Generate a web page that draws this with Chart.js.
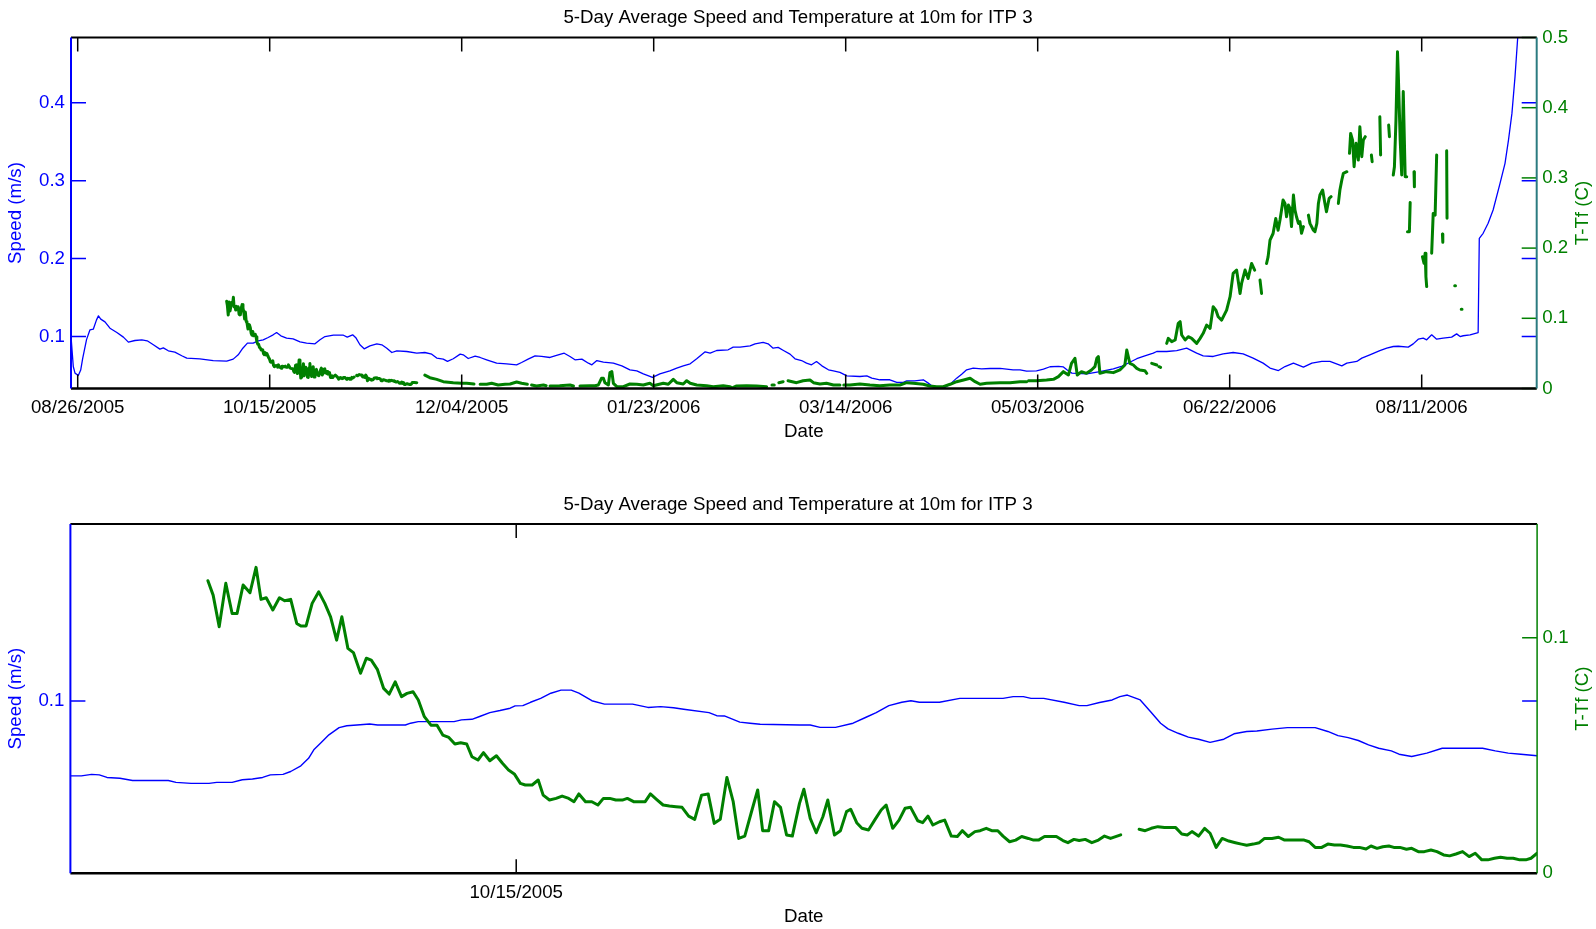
<!DOCTYPE html>
<html><head><meta charset="utf-8">
<script src="https://cdn.jsdelivr.net/npm/chart.js@4.4.1/dist/chart.umd.min.js"></script>
<style>
html,body{margin:0;padding:0;background:#fff;overflow:hidden;}
#top{position:absolute;left:0;top:0;width:1596px;height:460px;}
#bot{position:absolute;left:0;top:460px;width:1596px;height:469px;}
</style></head><body>
<div id="top"><canvas id="c1"></canvas></div>
<div id="bot"><canvas id="c2"></canvas></div>
<script>
// ---------- DATA (x = days since 08/26/2005) ----------
const chartTitle = '5-Day Average Speed and Temperature at 10m for ITP 3';
const topTickDays = [0,50,100,150,200,250,300,350];
const topTickLabels = ['08/26/2005','10/15/2005','12/04/2005','01/23/2006','03/14/2006','05/03/2006','06/22/2006','08/11/2006'];
const topSpeedTicks = [0.1,0.2,0.3,0.4];
const topSpeedTickLabels = ['0.1','0.2','0.3','0.4'];
const topTempTicks = [0,0.1,0.2,0.3,0.4,0.5];
const topTempTickLabels = ['0','0.1','0.2','0.3','0.4','0.5'];
const botTickDays = [50];
const botTickLabels = ['10/15/2005'];
const botSpeedTicks = [0.1];
const botSpeedTickLabels = ['0.1'];
const botTempTicks = [0,0.1];
const botTempTickLabels = ['0','0.1'];

const topSpeed = [[-1.74,0.100],[-1.15,0.0615],[-0.7,0.053],[0.16,0.050],[0.78,0.057],[1.3,0.072],[2.3,0.096],[3.2,0.1086],[4.06,0.1094],[4.9,0.1214],[5.4,0.1265],[6.0,0.1223],[7.1,0.1188],[8.4,0.1107],[10.2,0.1051],[11.9,0.0992],[13.2,0.0928],[14.9,0.0949],[16.7,0.0958],[18.1,0.0945],[19.7,0.0894],[21.4,0.0838],[22.3,0.0855],[23.6,0.0817],[25.3,0.080],[27.1,0.0753],[28.4,0.0723],[31.8,0.0714],[35.3,0.0692],[38.8,0.0684],[40.5,0.071],[41.8,0.0765],[43.0,0.085],[44.2,0.0915],[45.7,0.0915],[47.0,0.0945],[48.3,0.0958],[49.6,0.0988],[50.9,0.1022],[51.8,0.1051],[52.9,0.1009],[54.4,0.098],[56.1,0.0971],[57.9,0.0932],[59.6,0.0915],[61.8,0.0906],[63.1,0.0958],[64.4,0.100],[66.6,0.1017],[69.2,0.1017],[70.2,0.0992],[71.6,0.1022],[72.5,0.098],[73.5,0.0894],[74.6,0.0842],[76.1,0.088],[77.9,0.0906],[79.2,0.0894],[80.5,0.085],[81.8,0.0795],[83.1,0.0817],[85.7,0.0808],[88.3,0.0787],[90.4,0.0795],[92.2,0.0774],[93.5,0.0723],[95.2,0.071],[96.3,0.0682],[97.8,0.0715],[99.6,0.0774],[100.4,0.0765],[101.7,0.0718],[103.5,0.0748],[104.8,0.0731],[106.5,0.0701],[109.1,0.0658],[111.7,0.065],[114.3,0.0637],[115.6,0.0667],[117.3,0.071],[119.1,0.0752],[120.8,0.0744],[123.0,0.0731],[124.7,0.0757],[126.7,0.0786],[128.2,0.0744],[129.5,0.0701],[131.3,0.071],[133.0,0.0658],[133.9,0.0637],[135.2,0.0692],[136.9,0.0671],[139.5,0.0658],[141.7,0.0624],[143.8,0.0573],[145.6,0.056],[147.3,0.0521],[149.7,0.0475],[151.6,0.0521],[154.2,0.056],[156.0,0.0594],[157.7,0.0624],[159.5,0.065],[161.2,0.0714],[163.4,0.0804],[164.7,0.0787],[166.4,0.0821],[169.4,0.083],[170.7,0.0864],[172.5,0.0864],[175.1,0.0881],[176.4,0.0906],[178.5,0.0924],[179.8,0.0906],[181.1,0.0851],[182.4,0.086],[183.8,0.0821],[185.5,0.0774],[186.8,0.0714],[188.5,0.0692],[189.8,0.0658],[191.1,0.0637],[192.4,0.0679],[193.8,0.0624],[195.5,0.0573],[196.8,0.056],[198.5,0.0539],[200.3,0.0496],[203.7,0.0487],[205.5,0.0496],[206.8,0.0466],[208.9,0.0445],[211.5,0.0445],[213.3,0.0411],[215.0,0.0411],[215.9,0.0432],[218.0,0.0432],[220.2,0.0445],[221.5,0.0402],[222.8,0.0351],[225.4,0.0335],[227.2,0.0389],[228.9,0.0466],[230.2,0.0517],[231.5,0.0573],[233.2,0.0594],[235.4,0.0586],[237.6,0.059],[240.2,0.059],[243.6,0.0573],[245.4,0.0573],[247.1,0.0556],[249.7,0.056],[251.5,0.0581],[253.2,0.0612],[255.4,0.0616],[256.7,0.061],[257.6,0.0573],[258.9,0.053],[262.8,0.052],[266.2,0.0551],[269.7,0.0585],[272.0,0.062],[274.0,0.067],[275.8,0.0715],[277.5,0.0744],[280.1,0.0787],[281.0,0.0808],[283.6,0.0808],[286.2,0.082],[288.8,0.0851],[291.4,0.0787],[293.1,0.0753],[295.7,0.0744],[298.3,0.0778],[300.9,0.0795],[303.5,0.0778],[306.1,0.0723],[308.7,0.0659],[310.5,0.0595],[312.7,0.0564],[314.4,0.0615],[316.6,0.0659],[319.2,0.0607],[321.4,0.0659],[324.0,0.068],[326.1,0.068],[329.2,0.0624],[330.5,0.0659],[333.1,0.068],[334.4,0.0723],[336.5,0.0765],[339.1,0.082],[340.9,0.0851],[342.6,0.0872],[343.9,0.0875],[346.5,0.0864],[347.8,0.0906],[349.1,0.0966],[350.4,0.098],[351.3,0.0958],[352.6,0.1022],[353.9,0.0966],[355.6,0.098],[357.8,0.0992],[359.1,0.1034],[360.0,0.100],[360.8,0.101],[362.6,0.1022],[364.7,0.1051],[365.0,0.2261],[366.0,0.2325],[367.3,0.2453],[368.6,0.2624],[370.4,0.2966],[371.7,0.3223],[372.6,0.3522],[373.5,0.3864],[374.3,0.4333],[374.9,0.476],[375.5,0.52]];

// Temperature (T-Tf) read at high resolution from the lower (zoomed) panel: days 38.8 - 87.1
const botTemp = [[38.79,0.1242],[38.98,0.1181],[39.20,0.1047],[39.44,0.1231],[39.67,0.1103],[39.85,0.1103],[40.07,0.1224],[40.32,0.1191],[40.54,0.1299],[40.72,0.1163],[40.91,0.1170],[41.15,0.1118],[41.39,0.1170],[41.58,0.1157],[41.80,0.1163],[42.02,0.1061],[42.17,0.1050],[42.36,0.1050],[42.58,0.1146],[42.82,0.1195],[43.04,0.1146],[43.25,0.1089],[43.47,0.0990],[43.66,0.1089],[43.88,0.0955],[44.08,0.0937],[44.34,0.0849],[44.55,0.0913],[44.73,0.0905],[44.95,0.0866],[45.18,0.0785],[45.38,0.0761],[45.60,0.0813],[45.83,0.0750],[46.03,0.0764],[46.25,0.0771],[46.44,0.0736],[46.66,0.0665],[46.90,0.0629],[47.12,0.0629],[47.33,0.0587],[47.55,0.0577],[47.77,0.0549],[47.98,0.0554],[48.20,0.0549],[48.39,0.0495],[48.61,0.0481],[48.81,0.0512],[49.04,0.0478],[49.28,0.0499],[49.50,0.0467],[49.72,0.0439],[49.93,0.0422],[50.15,0.0382],[50.33,0.0375],[50.58,0.0375],[50.80,0.0396],[50.98,0.0332],[51.21,0.0311],[51.45,0.0318],[51.67,0.0328],[51.91,0.0318],[52.10,0.0304],[52.28,0.0337],[52.52,0.0304],[52.75,0.0304],[52.97,0.0290],[53.17,0.0318],[53.40,0.0318],[53.62,0.0311],[53.86,0.0311],[54.04,0.0318],[54.27,0.0304],[54.47,0.0304],[54.69,0.0304],[54.88,0.0337],[55.10,0.0314],[55.34,0.0290],[55.57,0.0286],[55.81,0.0283],[56.03,0.0280],[56.27,0.0243],[56.49,0.0229],[56.74,0.0332],[56.98,0.0337],[57.20,0.0212],[57.42,0.0229],[57.66,0.0407],[57.89,0.0304],[58.09,0.0148],[58.31,0.0158],[58.54,0.0255],[58.78,0.0354],[58.96,0.0181],[59.18,0.0181],[59.39,0.0304],[59.61,0.0280],[59.83,0.0163],[60.04,0.0158],[60.30,0.0297],[60.46,0.0357],[60.69,0.0233],[60.91,0.0172],[61.15,0.0240],[61.33,0.0311],[61.57,0.0163],[61.79,0.0181],[62.01,0.0262],[62.16,0.0272],[62.38,0.0215],[62.57,0.0191],[62.81,0.0184],[63.05,0.0229],[63.27,0.0269],[63.45,0.0290],[63.69,0.0191],[63.92,0.0226],[64.14,0.0276],[64.34,0.0280],[64.60,0.0223],[64.78,0.0215],[64.97,0.0243],[65.15,0.0205],[65.39,0.0219],[65.58,0.0226],[65.82,0.0158],[66.04,0.0156],[66.22,0.0181],[66.44,0.0156],[66.68,0.0177],[66.87,0.0181],[67.09,0.0191],[67.29,0.0181],[67.51,0.0181],[67.70,0.0158],[67.94,0.0134],[68.16,0.0141],[68.38,0.0156],[68.62,0.0148],[68.81,0.0141],[68.99,0.0141],[69.21,0.0156],[69.45,0.0156],[69.64,0.0156],[69.88,0.0139],[70.06,0.0130],[70.28,0.0144],[70.47,0.0139],[70.69,0.0144],[70.93,0.0130],[71.17,0.0141],[71.39,0.0158],[71.61,0.0148],[71.98,0.0163],[72.30,null],[72.65,0.0187],[72.87,0.0181],[73.09,0.0191],[73.33,0.0198],[73.57,0.0194],[73.98,0.0194],[74.20,0.0167],[74.40,0.0163],[74.57,0.0177],[74.81,0.0158],[75.03,0.0191],[75.23,0.0170],[75.45,0.0110],[75.67,0.0148],[75.91,0.0137],[76.15,0.0130],[76.37,0.0124],[76.56,0.0119],[76.80,0.0124],[77.02,0.0130],[77.21,0.0148],[77.48,0.0148],[77.72,0.0153],[77.94,0.0141],[78.18,0.0141],[78.41,0.0141],[78.65,0.0141],[78.83,0.0134],[79.05,0.0110],[79.29,0.0110],[79.51,0.0124],[79.75,0.0120],[79.97,0.0120],[80.21,0.0116],[80.44,0.0110],[80.66,0.0110],[80.90,0.0103],[81.08,0.0116],[81.30,0.0106],[81.51,0.0113],[81.73,0.0116],[81.91,0.0110],[82.13,0.0110],[82.37,0.0102],[82.56,0.0106],[82.80,0.0092],[83.02,0.0092],[83.26,0.0099],[83.48,0.0092],[83.72,0.0078],[83.94,0.0074],[84.17,0.0082],[84.41,0.0092],[84.65,0.0071],[84.87,0.0085],[85.11,0.0057],[85.33,0.0057],[85.57,0.0064],[85.79,0.0068],[86.03,0.0064],[86.25,0.0064],[86.49,0.0057],[86.71,0.0057],[86.90,0.0064],[87.12,0.0085]];

const topTempLate = [[87.6,0.0085],[88.3,0.0083],[89.2,null],
[90.4,0.019],[91.7,0.0154],[93.5,0.013],[95.2,0.0097],[97.8,0.0083],[100.0,0.0074],[101.3,0.0074],[103.2,0.0064],[103.9,null],[104.8,0.006],[106.5,0.006],[107.8,0.0074],[109.5,0.005],[111.3,0.006],[112.6,0.0064],[114.3,0.0092],[115.6,0.0074],[117.1,0.006],[117.6,null],[118.2,0.005],[119.5,0.0036],[121.3,0.005],[122.0,0.004],[122.5,null],[123.0,0.0036],[125.5,0.004],[128.2,0.005],[129.1,0.0036],[130.0,null],[130.8,0.0036],[133.4,0.004],[134.7,0.004],[135.6,0.005],[136.4,0.0145],[136.9,0.0145],[137.3,0.0083],[138.2,0.005],[138.6,0.0226],[139.1,0.024],[139.5,0.0074],[140.4,0.0026],[142.1,0.0026],[143.8,0.0064],[145.6,0.006],[147.3,0.005],[149.0,0.0074],[149.9,0.004],[152.5,0.0074],[153.8,0.006],[155.1,0.013],[156.0,0.0083],[157.7,0.0064],[158.6,0.0111],[159.5,0.0074],[161.2,0.005],[163.8,0.004],[165.5,0.0026],[168.1,0.004],[169.9,0.0026],[170.3,0.0005],[171.6,0.0036],[174.2,0.004],[176.8,0.0036],[179.4,0.0026],[180.2,null],[180.8,0.005],[181.4,0.005],[182.0,null],[182.6,0.0083],[183.7,0.0097],[184.5,null],[185.0,0.0111],[187.2,0.0083],[188.9,0.0111],[190.7,0.0121],[191.6,0.0083],[193.3,0.0064],[195.0,0.0074],[196.8,0.005],[198.5,0.005],[199.0,null],[199.5,0.005],[201.1,0.005],[203.7,0.0064],[206.3,0.005],[208.9,0.004],[211.5,0.005],[214.1,0.005],[215.9,0.0083],[217.6,0.0074],[220.2,0.006],[221.9,0.0036],[223.7,0.0026],[225.4,0.0026],[227.2,0.006],[228.9,0.0097],[230.7,0.0121],[232.4,0.0145],[233.7,0.0097],[235.0,0.006],[236.7,0.0074],[240.2,0.0083],[242.8,0.0083],[245.4,0.0097],[247.1,0.0097],[247.3,null],[247.6,0.0112],[249.7,0.0112],[252.3,0.0121],[254.1,0.0131],[255.4,0.0169],[256.7,0.024],[258.0,0.0192],[258.8,0.0359],[259.7,0.043],[260.3,0.0192],[261.4,0.024],[262.7,0.0216],[264.0,0.0264],[264.9,0.0311],[265.4,0.043],[265.8,0.0454],[266.2,0.0216],[267.9,0.024],[269.7,0.0226],[271.4,0.0264],[272.7,0.0335],[273.2,0.0548],[274.0,0.0359],[274.9,0.0335],[275.8,0.0287],[276.6,0.0264],[277.9,0.0254],[278.4,0.0216],[279.0,null],[279.7,0.0359],[281.0,0.0335],[281.3,null],[281.6,0.031],[282.0,0.030],[282.8,null],
[283.6,0.0643],[284.0,0.0714],[284.9,0.0667],[285.8,0.0691],[286.6,0.0928],[287.1,0.0952],[287.5,0.0762],[288.4,0.0691],[289.2,0.0738],[290.1,0.0714],[291.4,0.0643],[292.3,0.0714],[293.1,0.0786],[294.0,0.0904],[294.9,0.0857],[295.7,0.1164],[296.4,0.1117],[297.0,0.1022],[297.9,0.0975],[299.2,0.1117],[300.1,0.1307],[300.9,0.1639],[301.8,0.1687],[302.7,0.1354],[303.1,0.1496],[304.0,0.1687],[304.8,0.1567],[305.7,0.1781],[306.5,0.1687],[307.2,null],[307.9,0.1544],[308.3,0.1354],[309.0,null],[309.6,0.1781],[310.0,0.1876],[310.5,0.2113],[311.3,0.2208],[312.0,0.2422],[312.6,0.2255],[313.1,0.24],[313.5,0.2541],[313.9,0.2685],[314.4,0.2636],[314.8,0.2447],[315.3,0.2613],[315.7,0.2565],[316.1,0.2306],[316.6,0.2756],[317.0,0.2541],[317.4,0.2447],[317.9,0.2352],[318.3,0.2376],[318.7,0.221],[319.2,0.2306],[319.8,null],[320.5,0.247],[320.9,0.2352],[321.8,0.2255],[322.2,0.2234],[322.7,0.2352],[323.1,0.2636],[323.5,0.2756],[324.2,0.2827],[324.8,0.2636],[325.2,0.2518],[325.9,0.2709],[326.4,0.2733],[327.3,null],[328.3,0.2636],[328.7,0.2827],[329.2,0.297],[329.6,0.3065],[330.5,0.3088],[330.9,null],[331.2,0.335],[331.5,0.3634],[332.0,0.3539],[332.4,0.3159],[332.9,0.3492],[333.5,0.3254],[333.9,0.3729],[334.4,0.3302],[334.8,0.3539],[335.3,0.3587],[336.0,null],[336.9,0.3326],[337.1,0.3231],[338.0,null],[339.1,0.3872],[339.3,0.3326],[340.3,null],[341.4,0.3753],[341.6,0.3587],[342.1,null],[342.6,0.3041],[342.9,0.3159],[343.3,0.3825],[343.7,0.4798],[343.9,0.4491],[344.4,0.3539],[344.8,0.3041],[345.2,0.423],[345.7,0.3017],[346.1,0.3017],[346.2,null],[346.3,0.2234],[346.8,0.2234],[347.0,0.2648],[347.5,null],[348.0,0.3088],[348.1,0.2875],[349.0,null],[350.2,0.1878],[350.6,0.1784],[350.9,0.1926],[351.1,0.1595],[351.3,0.1452],[352.0,null],[352.6,0.1926],[353.0,0.2494],[353.5,0.247],[353.9,0.3326],[354.6,null],[355.4,0.2201],[355.5,0.2083],[356.0,null],[356.5,0.3387],[356.6,0.2424],[357.5,null],[358.6,0.1462],[358.8,0.1462],[359.5,null],[360.3,0.113],[360.5,0.113],[361.0,null]];

const botSpeed = [[33.79,0.0710],[34.19,0.0710],[34.56,0.0716],[34.84,0.0714],[35.12,0.0704],[35.59,0.0701],[36.05,0.0692],[37.35,0.0692],[37.63,0.0685],[38.18,0.0681],[38.83,0.0681],[39.11,0.0685],[39.67,0.0685],[40.04,0.0695],[40.41,0.0698],[40.78,0.0704],[41.06,0.0714],[41.52,0.0716],[41.80,0.0727],[42.17,0.0749],[42.45,0.0778],[42.64,0.0811],[42.91,0.0839],[43.19,0.0869],[43.56,0.0897],[43.84,0.0904],[44.21,0.0907],[44.67,0.0911],[44.96,0.0907],[45.97,0.0907],[46.16,0.0914],[46.44,0.0920],[47.74,0.0920],[48.01,0.0927],[48.39,0.0929],[48.67,0.0940],[49.04,0.0955],[49.41,0.0963],[49.78,0.0972],[49.96,0.0981],[50.24,0.0982],[50.52,0.0995],[50.89,0.1010],[51.26,0.1030],[51.63,0.1042],[52.00,0.1042],[52.28,0.1030],[52.75,0.1001],[53.21,0.0988],[54.23,0.0988],[54.79,0.0975],[55.25,0.0978],[55.72,0.0974],[56.09,0.0968],[57.01,0.0955],[57.29,0.0943],[57.57,0.0942],[58.13,0.0918],[58.50,0.0914],[58.87,0.0910],[60.31,0.0907],[60.69,0.0907],[61.05,0.0898],[61.61,0.0898],[62.25,0.0914],[62.72,0.0937],[63.09,0.0955],[63.55,0.0982],[64.02,0.0995],[64.35,0.1001],[64.66,0.0995],[65.39,0.0995],[66.13,0.1010],[67.70,0.1010],[68.07,0.1017],[68.44,0.1017],[68.72,0.1010],[69.18,0.1010],[69.92,0.0995],[70.47,0.0982],[70.75,0.0982],[71.21,0.0994],[71.67,0.1004],[71.95,0.1017],[72.22,0.1023],[72.69,0.1004],[73.06,0.0959],[73.43,0.0914],[73.70,0.0892],[74.07,0.0875],[74.44,0.0860],[74.81,0.0852],[75.23,0.0840],[75.73,0.0852],[76.10,0.0873],[76.56,0.0882],[76.93,0.0884],[77.48,0.0891],[78.04,0.0897],[79.05,0.0897],[79.51,0.0882],[79.88,0.0866],[80.25,0.0858],[80.62,0.0847],[80.99,0.0830],[81.36,0.0817],[81.82,0.0807],[82.10,0.0794],[82.56,0.0785],[83.11,0.0798],[83.67,0.0817],[85.14,0.0817],[85.60,0.0807],[86.07,0.0798],[86.53,0.0794],[87.12,0.0788]];

const topTemp = botTemp.concat(topTempLate);

// ---------- RENDER ----------
const FONT = 'Liberation Sans, Arial, Helvetica, sans-serif';
const FS = 18.7;
const BLUE = '#0000ff', GREEN = '#008000';
Chart.defaults.font.family = FONT;

function pts(a){ return a.map(p => ({x:p[0], y:p[1]})); }

function build(canvasId, o){
  const frame = {
    id:'frame',
    afterDraw(chart){
      const ctx = chart.ctx, a = chart.chartArea;
      const xs = chart.scales.x, ys = chart.scales.ys, yt = chart.scales.yt;
      ctx.save();
      ctx.lineCap = 'butt';
      ctx.strokeStyle = '#000'; ctx.lineWidth = 1.5;
      o.xTicks.forEach(v => {
        const px = xs.getPixelForValue(v);
        ctx.beginPath(); ctx.moveTo(px, a.bottom); ctx.lineTo(px, a.bottom - 14);
        ctx.moveTo(px, a.top); ctx.lineTo(px, a.top + 14); ctx.stroke();
      });
      ctx.strokeStyle = BLUE; ctx.lineWidth = 1.5;
      o.sTicks.forEach(v => {
        const py = ys.getPixelForValue(v);
        ctx.beginPath(); ctx.moveTo(a.left, py); ctx.lineTo(a.left + 15, py);
        ctx.moveTo(a.right, py); ctx.lineTo(a.right - 15, py); ctx.stroke();
      });
      ctx.strokeStyle = GREEN;
      o.tTicks.forEach(v => {
        const py = yt.getPixelForValue(v);
        ctx.beginPath(); ctx.moveTo(a.right, py); ctx.lineTo(a.right - 15, py); ctx.stroke();
      });
      ctx.strokeStyle = '#000'; ctx.lineWidth = 2;
      ctx.beginPath(); ctx.moveTo(a.left, a.top); ctx.lineTo(a.right, a.top); ctx.stroke();
      ctx.lineWidth = 2.5;
      ctx.beginPath(); ctx.moveTo(a.left, a.bottom); ctx.lineTo(a.right, a.bottom); ctx.stroke();
      ctx.strokeStyle = BLUE; ctx.lineWidth = 2;
      ctx.beginPath(); ctx.moveTo(a.left, a.top); ctx.lineTo(a.left, a.bottom); ctx.stroke();
      ctx.strokeStyle = o.rightColor; ctx.lineWidth = o.rightWidth;
      ctx.beginPath(); ctx.moveTo(a.right, a.top); ctx.lineTo(a.right, a.bottom); ctx.stroke();
      ctx.fillStyle = GREEN;
      ctx.font = FS + 'px ' + FONT;
      ctx.textAlign = 'center'; ctx.textBaseline = 'middle';
      ctx.translate(o.rTitleX, (a.top + a.bottom)/2);
      ctx.rotate(-Math.PI/2);
      ctx.fillText('T-Tf (C)', 0, 0);
      ctx.restore();
    }
  };
  return new Chart(document.getElementById(canvasId), {
    type:'line',
    data:{ datasets:[
      { label:'T-Tf', data:pts(o.temp), yAxisID:'yt', borderColor:GREEN, borderWidth:o.gw,
        pointRadius:0, tension:0, spanGaps:false, clip:0, borderJoinStyle:'round', borderCapStyle:'round' },
      { label:'Speed', data:pts(o.speed), yAxisID:'ys', borderColor:BLUE, borderWidth:o.bw,
        pointRadius:0, tension:0, clip:0, borderJoinStyle:'round' }
    ]},
    options:{
      responsive:true, maintainAspectRatio:false, animation:false, devicePixelRatio:1,
      layout:{ padding:0 },
      plugins:{
        legend:{ display:false }, tooltip:{ enabled:false },
        title:{ display:true, text:chartTitle, color:'#000',
          font:{ size:FS, weight:'normal', family:FONT, lineHeight:1.2 },
          padding:{ top:o.titleTop, bottom:o.titleBottom } }
      },
      scales:{
        x:{ type:'linear', position:'bottom', min:o.xmin, max:o.xmax,
          afterBuildTicks: s => { s.ticks = o.xTicks.map(v => ({value:v})); },
          afterFit: s => { s.height = o.H - o.area.b; },
          grid:{ display:false, drawTicks:false }, border:{ display:false },
          ticks:{ color:'#000', font:{ size:FS }, padding:o.xPad, maxRotation:0, autoSkip:false,
            callback:(v, i) => o.xLabels[i] },
          title:{ display:true, text:'Date', color:'#000', font:{ size:FS, lineHeight:1.2 },
            padding:{ top:0, bottom:o.datePad } } },
        ys:{ type:'linear', position:'left', min:o.smin, max:o.smax,
          afterBuildTicks: s => { s.ticks = o.sTicks.map(v => ({value:v})); },
          afterFit: s => { s.width = o.area.l; },
          grid:{ display:false, drawTicks:false }, border:{ display:false },
          ticks:{ color:BLUE, font:{ size:FS }, padding:6, callback:(v, i) => o.sLabels[i] },
          title:{ display:true, text:'Speed (m/s)', color:BLUE, font:{ size:FS, lineHeight:1.2 },
            padding:{ top:4.4, bottom:0 } } },
        yt:{ type:'linear', position:'right', min:o.tmin, max:o.tmax,
          afterBuildTicks: s => { s.ticks = o.tTicks.map(v => ({value:v})); },
          afterFit: s => { s.width = 1596 - o.area.r; },
          grid:{ display:false, drawTicks:false }, border:{ display:false },
          ticks:{ color:GREEN, font:{ size:FS }, padding:5.5, callback:(v, i) => o.tLabels[i] } }
      }
    },
    plugins:[frame]
  });
}

build('c1', {
  H:460, area:{ l:71, r:1536.7, t:37.5, b:388.5 },
  xmin:-1.745, xmax:379.95, smin:0.0333, smax:0.4838, tmin:0, tmax:0.5,
  xTicks:topTickDays, xLabels:topTickLabels, sTicks:topSpeedTicks, sLabels:topSpeedTickLabels,
  tTicks:topTempTicks, tLabels:topTempTickLabels,
  speed:topSpeed, temp:topTemp, bw:1.3, gw:3,
  titleTop:6.6, titleBottom:8.46, xPad:8, datePad:16.5,
  rightColor:'#2b7b80', rightWidth:2, rTitleX:1582.7
});
build('c2', {
  H:469, area:{ l:70.4, r:1537.1, t:64, b:413.3 },
  xmin:33.79, xmax:87.12, smin:0.0333, smax:0.1685, tmin:0, tmax:0.1483,
  xTicks:botTickDays, xLabels:botTickLabels, sTicks:botSpeedTicks, sLabels:botSpeedTickLabels,
  tTicks:botTempTicks, tLabels:botTempTickLabels,
  speed:botSpeed, temp:botTemp, bw:1.4, gw:3,
  titleTop:33.4, titleBottom:8.16, xPad:8, datePad:0.5,
  rightColor:GREEN, rightWidth:1.5, rTitleX:1583
});
</script></body></html>
